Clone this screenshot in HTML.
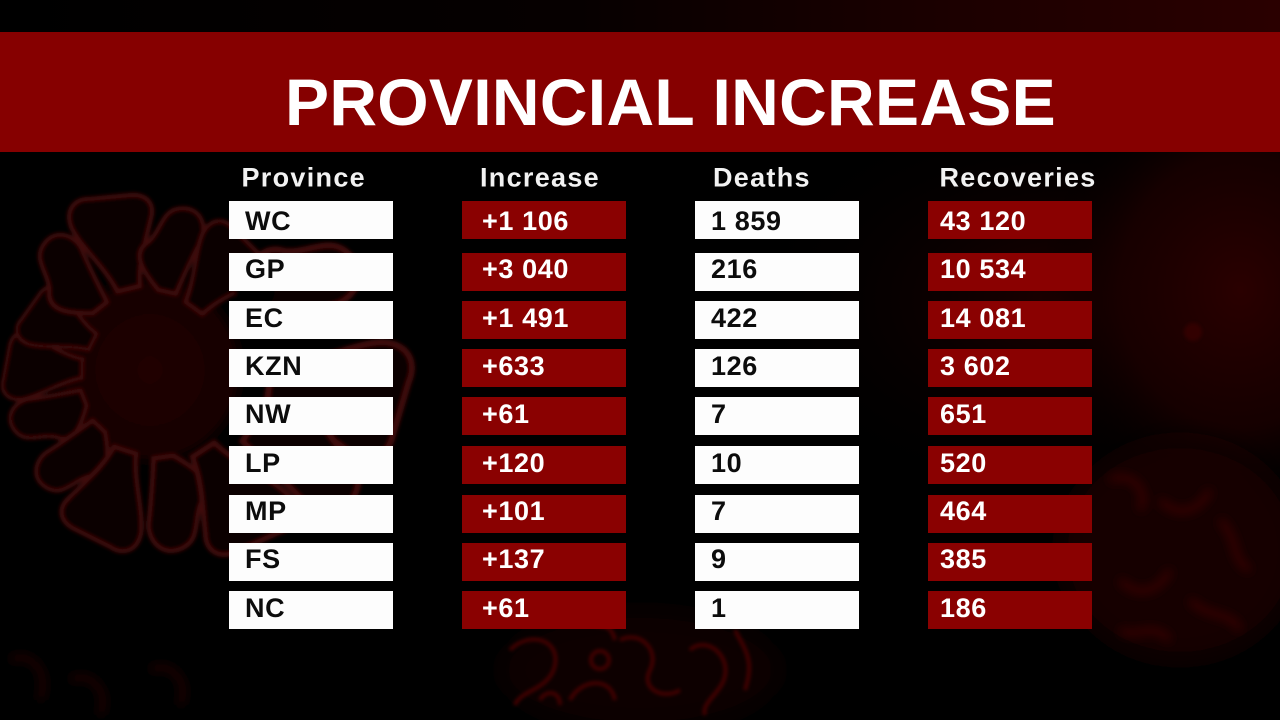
<!DOCTYPE html>
<html>
<head>
<meta charset="utf-8">
<style>
  html,body{margin:0;padding:0;background:#000;}
  body{width:1280px;height:720px;overflow:hidden;}
  svg{display:block;}
  .h{font-family:"Liberation Sans",Arial,sans-serif;font-weight:bold;}
</style>
</head>
<body>
<svg width="1280" height="720" viewBox="0 0 1280 720" xmlns="http://www.w3.org/2000/svg">
  <defs>
    <linearGradient id="topg" x1="0" y1="0" x2="1" y2="0">
      <stop offset="0" stop-color="#000"/>
      <stop offset="0.45" stop-color="#060000"/>
      <stop offset="0.75" stop-color="#1c0000"/>
      <stop offset="1" stop-color="#2a0000"/>
    </linearGradient>
    <radialGradient id="rg" cx="0.5" cy="0.5" r="0.5">
      <stop offset="0" stop-color="#2a0000" stop-opacity="1"/>
      <stop offset="0.6" stop-color="#1a0000" stop-opacity="0.8"/>
      <stop offset="1" stop-color="#000" stop-opacity="0"/>
    </radialGradient>
    <radialGradient id="rg2" cx="0.5" cy="0.5" r="0.5">
      <stop offset="0" stop-color="#1c0000" stop-opacity="1"/>
      <stop offset="1" stop-color="#000" stop-opacity="0"/>
    </radialGradient>
    <radialGradient id="body" cx="0.5" cy="0.5" r="0.5">
      <stop offset="0" stop-color="#260303"/>
      <stop offset="0.8" stop-color="#1c0202"/>
      <stop offset="1" stop-color="#000" stop-opacity="0"/>
    </radialGradient>
    <filter id="bl" x="-20%" y="-20%" width="140%" height="140%"><feGaussianBlur stdDeviation="1.8"/></filter>
    <filter id="bl2" x="-20%" y="-20%" width="140%" height="140%"><feGaussianBlur stdDeviation="5"/></filter>
    <filter id="bl3" x="-50%" y="-50%" width="200%" height="200%"><feGaussianBlur stdDeviation="12"/></filter>
    <path id="spike" d="M80 -12 C105 -18 130 -36 150 -40 C168 -42 176 -30 172 -16 L166 24 C162 40 150 42 140 36 C120 26 102 14 80 10 Z"/>
    <path id="spike2" d="M80 -10 C95 -30 110 -45 125 -30 C140 -20 160 -25 165 -5 C170 15 150 25 135 20 C115 15 100 12 80 8 Z"/>
  </defs>

  <!-- background -->
  <rect width="1280" height="720" fill="#000"/>
  <rect x="0" y="0" width="1280" height="34" fill="url(#topg)"/>
  <ellipse cx="1060" cy="300" rx="330" ry="210" fill="url(#rg2)"/>
  <ellipse cx="1240" cy="290" rx="200" ry="230" fill="url(#rg)"/>

  <!-- left virus -->
  <g filter="url(#bl)" opacity="0.85">
    <circle cx="150" cy="370" r="105" fill="url(#body)"/>
    <g transform="translate(150 370)" fill="#0c0101" stroke="#4c0808" stroke-width="4">
      <use href="#spike" transform="rotate(182) scale(0.85)"/>
      <use href="#spike2" transform="rotate(158) scale(0.9)"/>
      <use href="#spike" transform="rotate(207) scale(0.8)"/>
      <use href="#spike2" transform="rotate(232) scale(1.0)"/>
      <use href="#spike" transform="rotate(256) scale(1.05)"/>
      <use href="#spike2" transform="rotate(283) scale(1.0)"/>
      <use href="#spike" transform="rotate(306) scale(0.95)"/>
      <use href="#spike2" transform="rotate(133) scale(0.95)"/>
      <use href="#spike" transform="rotate(108) scale(1.05)"/>
      <use href="#spike2" transform="rotate(82) scale(1.1)"/>
      <use href="#spike" transform="rotate(57) scale(1.2)"/>
      <use href="#spike2" transform="rotate(332) scale(1.4)"/>
      <use href="#spike" transform="rotate(8) scale(1.5)"/>
      <use href="#spike2" transform="rotate(32) scale(1.45)"/>
    </g>
    <circle cx="255" cy="290" r="20" fill="#050000"/>
  </g>

  <!-- middle-bottom squiggles -->
  <ellipse cx="640" cy="670" rx="140" ry="60" fill="#140000" opacity="0.6" filter="url(#bl3)"/>
  <g filter="url(#bl)" fill="none" stroke="#420606" stroke-width="4">
    <path d="M510 650 C530 630 560 640 555 665 C550 690 520 690 515 705"/>
    <path d="M570 700 C580 680 610 675 615 700"/>
    <path d="M620 640 C640 630 660 650 650 670 C640 690 665 700 680 690"/>
    <path d="M690 650 C700 640 720 645 725 665 C730 690 700 700 705 715"/>
    <path d="M735 630 C745 650 755 660 745 690"/>
    <path d="M540 700 C545 690 560 690 560 705"/>
    <circle cx="600" cy="660" r="9"/>
    <path d="M580 620 C600 630 610 620 615 640"/>
  </g>

  <!-- right-bottom blobs -->
  <ellipse cx="1180" cy="550" rx="120" ry="110" fill="#140101" filter="url(#bl3)"/>
  <g filter="url(#bl2)">
    <g fill="none" stroke="#3a0404" stroke-width="6">
      <path d="M1110 480 C1130 470 1150 490 1140 510"/>
      <path d="M1160 500 C1180 520 1200 510 1210 490"/>
      <path d="M1220 520 C1240 540 1230 560 1250 570"/>
      <path d="M1120 580 C1140 600 1160 590 1170 570"/>
      <path d="M1190 600 C1210 620 1230 610 1240 630"/>
      <path d="M1120 630 C1140 640 1150 620 1170 640"/>
    </g>
  </g>
  <circle cx="1193" cy="332" r="9" fill="#320000" filter="url(#bl)"/>

  <!-- bottom-left faint -->
  <g filter="url(#bl2)" fill="none" stroke="#240303" stroke-width="6">
    <path d="M10 660 C30 650 50 670 40 700"/>
    <path d="M70 680 C90 670 110 690 100 715"/>
    <path d="M150 670 C170 660 190 680 180 705"/>
  </g>

  <!-- banner -->
  <rect x="0" y="32" width="1280" height="120" fill="#860000"/>
  <text class="h" x="285" y="125" font-size="66" fill="#ffffff" letter-spacing="0.3">PROVINCIAL INCREASE</text>

  <!-- headers -->
  <g class="h" font-size="27" fill="#f2f2f2" letter-spacing="1.3">
    <text x="241.5" y="186.5">Province</text>
    <text x="480" y="186.5">Increase</text>
    <text x="713" y="186.5">Deaths</text>
    <text x="939.5" y="186.5">Recoveries</text>
  </g>

  <!-- boxes -->
  <g>
    <g fill="#fdfdfd">
      <rect x="229" y="201" width="164" height="38"/>
      <rect x="229" y="253" width="164" height="38"/>
      <rect x="229" y="301" width="164" height="38"/>
      <rect x="229" y="349" width="164" height="38"/>
      <rect x="229" y="397" width="164" height="38"/>
      <rect x="229" y="446" width="164" height="38"/>
      <rect x="229" y="495" width="164" height="38"/>
      <rect x="229" y="543" width="164" height="38"/>
      <rect x="229" y="591" width="164" height="38"/>

      <rect x="695" y="201" width="164" height="38"/>
      <rect x="695" y="253" width="164" height="38"/>
      <rect x="695" y="301" width="164" height="38"/>
      <rect x="695" y="349" width="164" height="38"/>
      <rect x="695" y="397" width="164" height="38"/>
      <rect x="695" y="446" width="164" height="38"/>
      <rect x="695" y="495" width="164" height="38"/>
      <rect x="695" y="543" width="164" height="38"/>
      <rect x="695" y="591" width="164" height="38"/>
    </g>
    <g fill="#8a0101">
      <rect x="462" y="201" width="164" height="38"/>
      <rect x="462" y="253" width="164" height="38"/>
      <rect x="462" y="301" width="164" height="38"/>
      <rect x="462" y="349" width="164" height="38"/>
      <rect x="462" y="397" width="164" height="38"/>
      <rect x="462" y="446" width="164" height="38"/>
      <rect x="462" y="495" width="164" height="38"/>
      <rect x="462" y="543" width="164" height="38"/>
      <rect x="462" y="591" width="164" height="38"/>

      <rect x="928" y="201" width="164" height="38"/>
      <rect x="928" y="253" width="164" height="38"/>
      <rect x="928" y="301" width="164" height="38"/>
      <rect x="928" y="349" width="164" height="38"/>
      <rect x="928" y="397" width="164" height="38"/>
      <rect x="928" y="446" width="164" height="38"/>
      <rect x="928" y="495" width="164" height="38"/>
      <rect x="928" y="543" width="164" height="38"/>
      <rect x="928" y="591" width="164" height="38"/>
    </g>
  </g>

  <!-- data text -->
  <g class="h" font-size="27" letter-spacing="0.6">
    <g fill="#0c0c0c">
      <text x="245" y="230">WC</text>
      <text x="245" y="278">GP</text>
      <text x="245" y="327">EC</text>
      <text x="245" y="375">KZN</text>
      <text x="245" y="423">NW</text>
      <text x="245" y="472">LP</text>
      <text x="245" y="520">MP</text>
      <text x="245" y="568">FS</text>
      <text x="245" y="617">NC</text>

      <text x="711" y="230">1 859</text>
      <text x="711" y="278">216</text>
      <text x="711" y="327">422</text>
      <text x="711" y="375">126</text>
      <text x="711" y="423">7</text>
      <text x="711" y="472">10</text>
      <text x="711" y="520">7</text>
      <text x="711" y="568">9</text>
      <text x="711" y="617">1</text>
    </g>
    <g fill="#ffffff">
      <text x="482" y="230">+1 106</text>
      <text x="482" y="278">+3 040</text>
      <text x="482" y="327">+1 491</text>
      <text x="482" y="375">+633</text>
      <text x="482" y="423">+61</text>
      <text x="482" y="472">+120</text>
      <text x="482" y="520">+101</text>
      <text x="482" y="568">+137</text>
      <text x="482" y="617">+61</text>

      <text x="940" y="230">43 120</text>
      <text x="940" y="278">10 534</text>
      <text x="940" y="327">14 081</text>
      <text x="940" y="375">3 602</text>
      <text x="940" y="423">651</text>
      <text x="940" y="472">520</text>
      <text x="940" y="520">464</text>
      <text x="940" y="568">385</text>
      <text x="940" y="617">186</text>
    </g>
  </g>
</svg>
</body>
</html>
